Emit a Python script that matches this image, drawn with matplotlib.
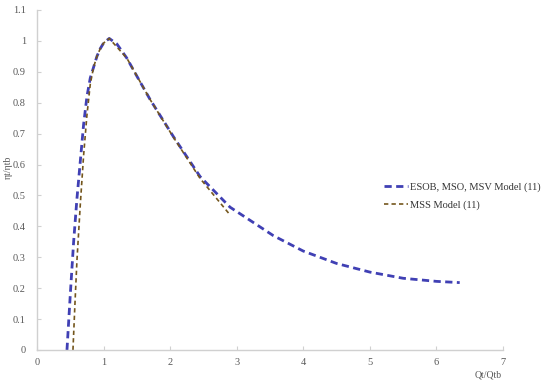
import matplotlib
matplotlib.use("Agg")
import matplotlib.pyplot as plt
from matplotlib.ticker import FuncFormatter

# Data
blue_x = [0.45, 0.50, 0.55, 0.60, 0.65, 0.70, 0.75, 0.80, 0.85, 0.90, 0.95, 1.0, 1.085,
          1.2, 1.35, 1.5, 1.7, 2.05, 2.45, 2.9, 3.55, 4.0, 4.5, 5.0, 5.5, 6.0, 6.35]
blue_y = [0.0, 0.18, 0.35, 0.49, 0.61, 0.73, 0.82, 0.88, 0.915, 0.95, 0.975, 0.993, 1.008,
          0.99, 0.944, 0.886, 0.81, 0.69, 0.561, 0.462, 0.37, 0.32, 0.28, 0.252, 0.232, 0.222, 0.218]

brown_x = [0.54, 0.57, 0.60, 0.65, 0.70, 0.75, 0.80, 0.85, 0.90, 0.95, 1.0, 1.085,
           1.35, 1.7, 2.05, 2.45, 2.9]
brown_y = [0.0, 0.15, 0.29, 0.47, 0.63, 0.76, 0.86, 0.915, 0.95, 0.975, 0.993, 1.008,
           0.944, 0.81, 0.688, 0.555, 0.437]

blue_label = "ESOB, MSO, MSV Model (11)"
brown_label = "MSS Model (11)"
x_ticks = [0, 1, 2, 3, 4, 5, 6, 7]
y_ticks = [0, 0.1, 0.2, 0.3, 0.4, 0.5, 0.6, 0.7, 0.8, 0.9, 1.0, 1.1]

plt.rcParams['font.family'] = ['Liberation Serif', 'DejaVu Serif']

fig = plt.figure(figsize=(5.5, 3.89), dpi=100)
ax = fig.add_axes([0.0673, 0.1003, 0.8472, 0.8740])

ax.plot(blue_x, blue_y, color='#4040B4', lw=2.0, linestyle=(0, (2.6, 1.6)),
        label=blue_label, dash_capstyle='butt')
ax.plot(brown_x, brown_y, color='#74561C', lw=1.2, linestyle=(0, (2.6, 1.9)),
        label=brown_label, dash_capstyle='butt')

ax.set_xlim(0, 7)
ax.set_ylim(0, 1.1)
ax.set_xticks(x_ticks)
ax.set_yticks(y_ticks)
ax.yaxis.set_major_formatter(FuncFormatter(lambda v, p: f"{v:g}"))

for s in ['top', 'right']:
    ax.spines[s].set_visible(False)
for s in ['left', 'bottom']:
    ax.spines[s].set_color('#D0D0D0')
    ax.spines[s].set_linewidth(1.0)

ax.tick_params(axis='both', direction='in', length=3, width=0.8, color='#D0D0D0',
               labelcolor='#595959', labelsize=7.5)
ax.tick_params(axis='x', pad=6)
ax.tick_params(axis='y', pad=8)

fig.text(8 / 550, 1 - 167 / 389, "ηt/ηtb", rotation=90, ha='center', va='center',
         fontsize=7, color='#595959')
fig.text(488 / 550, 1 - 375 / 389, "Qt/Qtb", ha='center', va='center',
         fontsize=7, color='#595959')

leg = ax.legend(loc='center left', bbox_to_anchor=(0.745, 0.453), frameon=False,
                fontsize=7.5, labelcolor='#333333', handlelength=2.3,
                handletextpad=0.2, labelspacing=0.8, borderaxespad=0, borderpad=0)

fig.savefig("out.png", dpi=100)
